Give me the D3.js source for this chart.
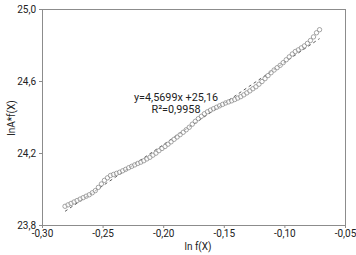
<!DOCTYPE html>
<html><head><meta charset="utf-8">
<script src="https://cdn.jsdelivr.net/npm/d3@7"></script>
<style>body{margin:0;background:#fff}svg{display:block}</style>
</head><body><svg id="c" width="356" height="255"></svg>
<script>
const xStart = -0.281, xStep = 0.0025;
const yValues = [23.904,23.912,23.920,23.928,23.936,23.944,23.952,23.960,23.968,23.979,
23.991,24.009,24.028,24.048,24.062,24.075,24.081,24.087,24.093,24.101,
24.109,24.118,24.126,24.134,24.142,24.149,24.157,24.167,24.176,24.188,
24.199,24.213,24.225,24.236,24.249,24.262,24.276,24.289,24.302,24.315,
24.329,24.343,24.360,24.376,24.391,24.404,24.418,24.429,24.438,24.446,
24.454,24.462,24.470,24.478,24.484,24.490,24.497,24.505,24.513,24.523,
24.534,24.545,24.557,24.568,24.582,24.597,24.613,24.630,24.646,24.661,
24.674,24.687,24.702,24.718,24.734,24.750,24.764,24.773,24.784,24.795,
24.809,24.825,24.845,24.868,24.885];
const xValues = yValues.map((_, i) => +(xStart + i * xStep).toFixed(4));
const trendSlope = 4.5699, trendIntercept = 25.16;
const xTicks = [-0.30,-0.25,-0.20,-0.15,-0.10,-0.05];
const yTicks = [23.8,24.2,24.6,25.0];
const equationLines = ["y=4,5699x +25,16", "R²=0,9958"];
const xTitle = "ln f(X)", yTitle = "lnA*f(X)";

const svg = d3.select("#c");
const L = 42, R = 345, T = 9, B = 225;
const x = d3.scaleLinear().domain([-0.30,-0.05]).range([L,R]);
const y = d3.scaleLinear().domain([23.8,25.0]).range([B,T]);
const fmt = (d, n) => d.toFixed(n).replace(".", ",");
const font = "Roboto, 'DejaVu Sans', sans-serif";

svg.append("rect").attr("x",L).attr("y",T).attr("width",R-L).attr("height",B-T)
  .attr("fill","none").attr("stroke","#8c8c8c").attr("stroke-width",1)
  .attr("shape-rendering","crispEdges");

const xa = svg.append("g").attr("transform",`translate(0,${B})`)
  .call(d3.axisBottom(x).tickValues(xTicks).tickSize(3).tickPadding(2).tickFormat(d=>fmt(d,2)));
const ya = svg.append("g").attr("transform",`translate(${L},0)`)
  .call(d3.axisLeft(y).tickValues(yTicks).tickSize(3).tickPadding(3).tickFormat(d=>fmt(d,1)));
[xa,ya].forEach(a=>{
  a.select(".domain").attr("stroke","#8c8c8c");
  a.selectAll(".tick line").attr("stroke","#8c8c8c");
  a.selectAll("text").attr("fill","#222").style("font-family",font).style("font-size","10px");
});

const tx = d3.extent(xValues);
svg.append("line")
  .attr("x1",x(tx[0])).attr("y1",y(trendIntercept+trendSlope*tx[0]))
  .attr("x2",x(tx[1])).attr("y2",y(trendIntercept+trendSlope*tx[1]))
  .attr("stroke","#333").attr("stroke-width",0.8).attr("stroke-dasharray","3,3");

svg.append("g").selectAll("circle").data(yValues).join("circle")
  .attr("cx",(d,i)=>x(xValues[i])).attr("cy",d=>y(d)).attr("r",2.2)
  .attr("fill","#fff").attr("fill-opacity",0.5).attr("stroke","#808080").attr("stroke-width",0.7);

svg.append("g").selectAll("text").data(equationLines).join("text")
  .attr("x",176).attr("y",(d,i)=>101+i*12).attr("text-anchor","middle")
  .attr("fill","#222").style("font-family",font).style("font-size","10.8px").text(d=>d);

svg.append("text").attr("x",198).attr("y",250).attr("text-anchor","middle")
  .attr("fill","#222").style("font-family",font).style("font-size","10px").text(xTitle);
svg.append("text").attr("transform","translate(15,118) rotate(-90)").attr("text-anchor","middle")
  .attr("fill","#222").style("font-family",font).style("font-size","10px").text(yTitle);
</script></body></html>
